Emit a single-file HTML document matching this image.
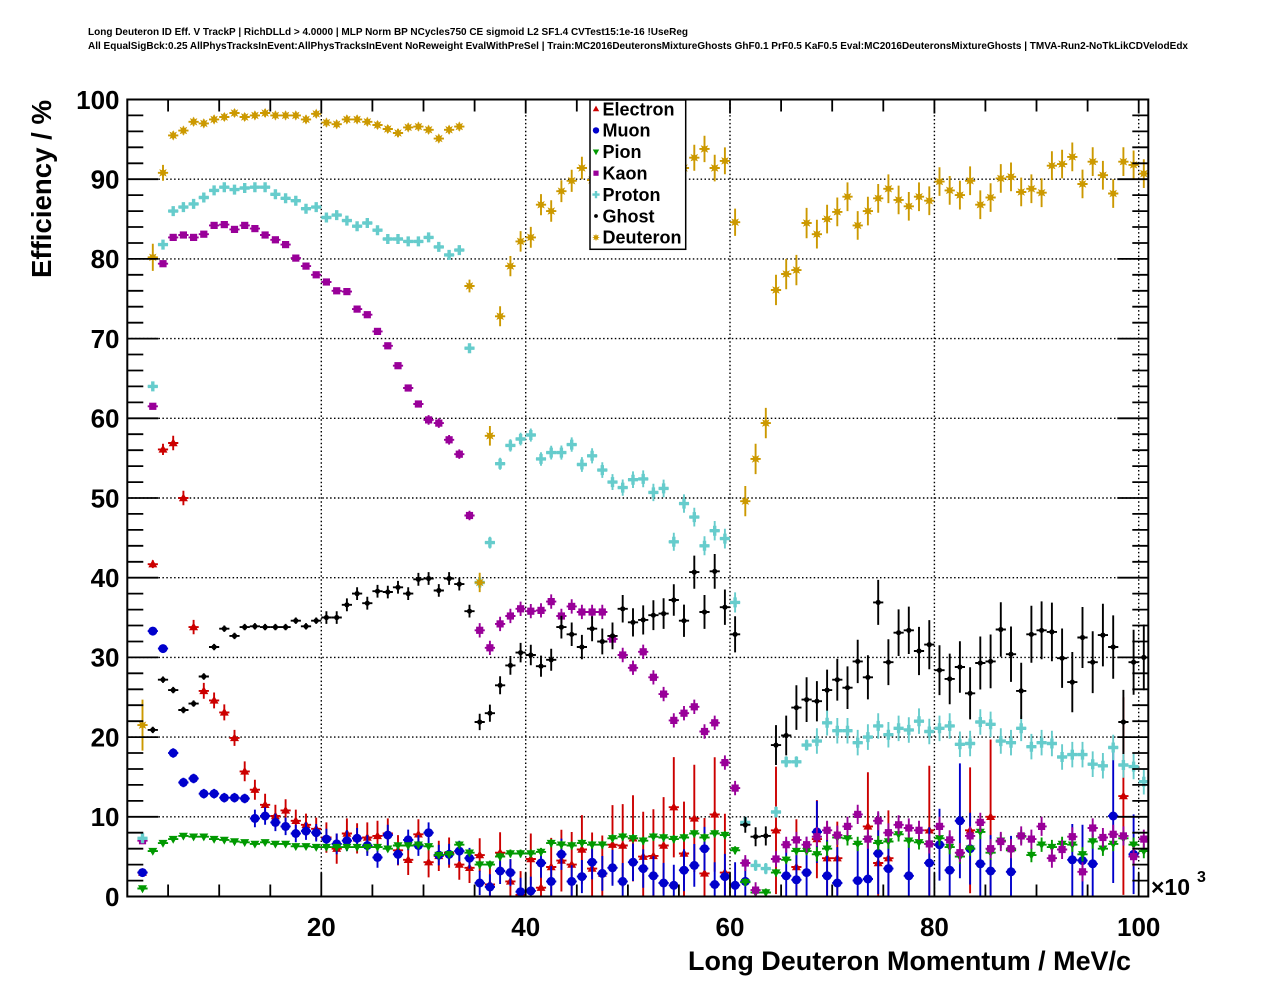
<!DOCTYPE html>
<html><head><meta charset="utf-8">
<style>
html,body{margin:0;padding:0;background:#fff;width:1276px;height:996px;overflow:hidden}
svg{position:absolute;left:0;top:0}
text{font-family:"Liberation Sans",Arial,sans-serif;font-weight:bold;fill:#000}
</style></head>
<body>
<svg id="s" width="1276" height="996" viewBox="0 0 1276 996" xmlns="http://www.w3.org/2000/svg">
<defs><clipPath id="cp"><rect x="127.3" y="99.5" width="1021" height="797"/></clipPath></defs>
<rect x="0" y="0" width="1276" height="996" fill="#fff"/>
<g id="grid"></g>
<g id="data" clip-path="url(#cp)"></g>
<rect x="127.3" y="99.5" width="1021" height="797" fill="none" stroke="#000" stroke-width="2"/>
<g id="ticks"></g>

<text x="88" y="35" font-size="10.5" textLength="600" lengthAdjust="spacingAndGlyphs">Long Deuteron ID Eff. V TrackP | RichDLLd &gt; 4.0000 | MLP Norm BP NCycles750 CE sigmoid L2 SF1.4 CVTest15:1e-16 !UseReg</text>
<text x="88" y="49" font-size="10.5" textLength="1100" lengthAdjust="spacingAndGlyphs">All EqualSigBck:0.25 AllPhysTracksInEvent:AllPhysTracksInEvent NoReweight EvalWithPreSel | Train:MC2016DeuteronsMixtureGhosts GhF0.1 PrF0.5 KaF0.5 Eval:MC2016DeuteronsMixtureGhosts | TMVA-Run2-NoTkLikCDVelodEdx</text>

<g font-size="26" text-anchor="end">
<text x="119.5" y="108.8">100</text>
<text x="119.5" y="188.5">90</text>
<text x="119.5" y="268.2">80</text>
<text x="119.5" y="347.9">70</text>
<text x="119.5" y="427.6">60</text>
<text x="119.5" y="507.3">50</text>
<text x="119.5" y="587.0">40</text>
<text x="119.5" y="666.7">30</text>
<text x="119.5" y="746.4">20</text>
<text x="119.5" y="826.1">10</text>
<text x="119.5" y="905.8">0</text>
</g>
<g font-size="26" text-anchor="middle">
<text x="321.3" y="936">20</text>
<text x="525.7" y="936">40</text>
<text x="730.0" y="936">60</text>
<text x="934.4" y="936">80</text>
<text x="1138.7" y="936">100</text>
</g>
<text x="1151" y="895" font-size="23">×10</text>
<text x="1197" y="882" font-size="16">3</text>

<text x="688" y="970" font-size="26.5" textLength="443" lengthAdjust="spacingAndGlyphs">Long Deuteron Momentum / MeV/c</text>
<text transform="translate(51,278) rotate(-90)" font-size="28" textLength="178" lengthAdjust="spacingAndGlyphs">Efficiency / %</text>

<g id="legend">
<rect x="590" y="100" width="95.7" height="149.3" fill="#fff" stroke="#000" stroke-width="1.5"/>
<g id="legmk"></g>
<g font-size="18">
<text x="602.5" y="115.3">Electron</text>
<text x="602.5" y="136.7">Muon</text>
<text x="602.5" y="158.1">Pion</text>
<text x="602.5" y="179.5">Kaon</text>
<text x="602.5" y="200.9">Proton</text>
<text x="602.5" y="222.3">Ghost</text>
<text x="602.5" y="243.7">Deuteron</text>
</g>
</g>
</svg>
<script>
(function(){
const X0=117.0,SX=10.217,Y0=896.5,SY=7.97;
const px=c=>X0+SX*c, py=v=>Y0-SY*v;
const S=n=>n.toFixed(1);
const mk={
 tu:(x,y,s)=>`<path d="M${S(x)},${S(y-4.7*s)}L${S(x+4.5*s)},${S(y+3.2*s)}L${S(x-4.5*s)},${S(y+3.2*s)}Z"/>`,
 td:(x,y,s)=>`<path d="M${S(x)},${S(y+4.7*s)}L${S(x+4.5*s)},${S(y-3.2*s)}L${S(x-4.5*s)},${S(y-3.2*s)}Z"/>`,
 ci:(x,y,s)=>`<circle cx="${S(x)}" cy="${S(y)}" r="${S(4.5*s)}"/>`,
 sq:(x,y,s)=>`<rect x="${S(x-3.6*s)}" y="${S(y-3.6*s)}" width="${S(7.2*s)}" height="${S(7.2*s)}"/>`,
 cr:(x,y,s)=>{const a=5.0*s,b=1.7*s;return `<path d="M${S(x-b)},${S(y-a)}h${S(2*b)}v${S(a-b)}h${S(a-b)}v${S(2*b)}h${S(b-a)}v${S(a-b)}h${S(-2*b)}v${S(b-a)}h${S(b-a)}v${S(-2*b)}h${S(a-b)}Z"/>`;},
 st:(x,y,s)=>{let d='';for(let k=0;k<16;k++){const r=(k%2?2.7:5.3)*s,t=k*Math.PI/8;d+=(k?'L':'M')+S(x+r*Math.sin(t))+','+S(y-r*Math.cos(t));}return `<path d="${d}Z"/>`;},
 gh:(x,y,s)=>`<circle cx="${S(x)}" cy="${S(y)}" r="${S(2.6*s)}"/>`
};
const N=null;
const E=[3.0,41.7,56.1,56.9,50.0,33.8,25.8,24.6,23.1,19.9,15.7,13.4,11.5,10.1,10.8,9.5,9.0,8.5,7.4,6.0,7.9,7.3,7.4,7.6,7.9,5.8,4.6,7.8,4.3,5.1,5.5,4.0,3.6,5.2,1.5,5.5,1.9,0.2,4.7,1.1,3.7,4.5,4.0,5.9,3.5,2.9,6.5,6.4,7.3,5.0,5.1,6.4,11.2,5.4,9.8,2.9,10.3,3.0,N,N,N,N,8.3,N,3.7,N,7.2,4.8,4.8,N,N,8.8,4.2,4.8,N,N,N,8.3,N,N,N,8.3,N,10.0,N,N,N,N,N,N,N,N,N,N,N,N,12.6,N,N];
const Mu=[3.0,33.3,31.1,18.0,14.3,14.8,12.9,12.9,12.4,12.4,12.3,9.8,10.1,9.3,8.8,7.9,8.2,8.0,7.2,6.6,7.0,7.3,6.4,4.9,7.7,5.3,7.1,6.4,8.0,5.2,5.3,5.7,4.8,1.7,1.2,3.2,3.0,0.6,0.7,4.2,1.9,5.3,1.9,2.5,4.3,2.9,3.6,1.9,4.3,3.5,2.6,1.7,1.4,3.3,3.9,6.0,1.5,2.5,1.4,1.9,N,N,N,2.6,2.1,3.0,8.1,2.6,1.7,N,2.0,2.2,5.4,3.5,N,2.6,N,4.2,6.5,3.3,9.5,6.0,4.1,3.2,N,3.1,N,N,N,N,N,4.6,4.5,4.1,N,10.1,N,5.3,N];
const Pi=[1.0,5.7,6.7,7.2,7.6,7.5,7.5,7.2,7.1,6.9,6.8,6.6,6.8,6.6,6.6,6.3,6.3,6.2,6.2,6.2,6.2,6.2,6.2,6.2,6.0,6.4,6.4,6.5,6.3,5.2,5.3,6.5,5.5,4.0,4.0,5.0,5.4,5.4,5.4,5.6,6.7,6.5,6.4,6.7,6.5,6.5,7.3,7.5,7.3,7.0,7.5,7.4,7.2,7.4,7.9,7.4,7.9,7.7,5.8,1.8,0.5,0.5,3.0,4.6,5.7,5.7,5.3,6.0,7.4,7.3,6.6,7.2,6.7,6.9,7.8,7.0,6.8,6.6,7.3,6.2,5.0,6.0,8.1,5.5,7.0,5.8,7.5,5.2,6.5,6.2,6.6,6.5,5.3,6.9,6.0,6.6,7.3,6.5,5.7];
const Ka=[7.0,61.5,79.4,82.7,83.0,82.7,83.1,84.2,84.3,83.7,84.2,83.8,83.0,82.4,81.8,80.1,79.1,78.0,77.1,76.0,75.9,73.7,73.0,70.9,69.1,66.6,63.8,61.8,59.8,59.4,57.3,55.5,47.8,33.4,31.2,34.2,35.2,36.1,35.8,35.9,37.0,35.2,36.4,35.7,35.7,35.7,32.3,30.3,28.7,30.7,27.5,25.4,22.1,23.0,23.8,20.7,21.8,16.8,13.6,4.2,0.8,N,4.7,6.5,7.1,6.5,7.5,8.3,7.7,8.8,10.3,7.2,9.5,8.0,9.0,8.6,8.3,6.6,8.8,7.1,5.5,7.6,9.3,6.0,6.9,6.0,7.6,7.2,8.8,4.8,5.9,7.5,3.1,8.6,7.4,7.8,7.6,5.0,7.2];
const Pr=[7.3,64.0,81.8,86.0,86.5,86.9,87.7,88.6,89.0,88.7,88.9,89.0,89.0,88.1,87.6,87.3,86.3,86.5,85.2,85.5,84.8,84.1,84.5,83.6,82.5,82.5,82.2,82.2,82.7,81.5,80.5,81.1,68.8,39.4,44.4,54.3,56.6,57.4,57.9,54.9,55.7,55.7,56.7,54.2,55.3,53.5,52.0,51.3,52.3,52.4,50.7,51.2,44.5,49.3,47.6,44.0,45.9,44.9,36.9,9.3,3.9,3.5,10.6,16.9,16.9,19.0,19.5,21.8,20.8,20.8,19.3,20.0,21.4,20.3,21.1,20.9,22.0,20.7,21.1,21.4,19.1,19.2,21.9,21.6,19.5,19.3,21.1,18.8,19.3,19.2,17.5,17.8,17.8,16.6,16.4,18.7,16.5,16.3,14.4];
const Gh=[N,20.9,27.2,25.9,23.4,24.2,27.6,31.3,33.6,32.7,33.8,33.9,33.8,33.8,33.8,34.6,33.9,34.6,35.0,35.0,36.6,38.0,36.8,38.3,38.2,38.8,38.0,39.8,39.9,38.4,39.9,39.2,35.8,21.9,23.0,26.5,29.0,30.6,30.3,28.9,29.7,33.8,32.9,31.3,33.6,32.0,32.7,36.1,34.4,34.7,35.3,35.5,37.2,34.6,40.7,35.7,40.8,36.3,32.9,9.0,7.5,7.6,19.0,20.2,23.7,24.7,24.5,25.9,27.2,26.2,29.5,27.5,36.9,29.4,33.1,33.4,30.8,31.6,28.4,27.3,28.8,25.5,29.3,29.5,33.5,30.4,25.8,32.9,33.4,33.2,29.9,26.9,32.5,29.4,32.8,31.3,21.9,29.4,30.0];
const De=[21.5,80.2,90.8,95.5,96.1,97.2,97.0,97.5,97.8,98.3,97.8,98.0,98.3,98.0,98.0,98.0,97.5,98.2,97.1,96.9,97.5,97.5,97.2,96.8,96.3,95.8,96.5,96.6,96.2,95.1,96.2,96.6,76.6,39.4,57.8,72.8,79.1,82.2,82.7,86.8,86.0,88.5,89.8,91.4,89.9,91.5,92.0,92.5,92.0,92.5,93.0,92.5,92.0,91.4,92.7,93.8,91.4,92.3,84.6,49.6,54.9,59.4,76.1,78.1,78.6,84.5,83.1,85.0,85.9,87.8,84.2,86.0,87.6,88.8,87.4,86.6,87.8,87.3,89.7,88.6,88.0,89.8,86.8,87.7,90.1,90.3,88.4,88.8,88.3,91.7,91.9,92.8,89.4,92.2,90.5,88.2,92.2,91.8,90.7];

const eE={64.5:8,66.5:6,68.5:4.9,69.5:4.6,70.5:4.6,73.5:6.8,74.5:6,75.5:6,79.5:8.1,83.5:7.9,85.5:9.7,98.5:12.4};
const errE=c=>c<4?0.5:c<5?0.7:c<8?0.9:c<12?1.0:c<14?1.25:c<20?1.4:c<35?1.9:c<61?2+(c-35)*0.22:(eE[c]||7);
const eM={68.5:3.9,82.5:7.2,97.5:8.4,74.5:5.1,99.5:5};
const errM=c=>c<5?0.5:c<13?0.6:c<20?1.1:c<35?1.3:c<62?1.5+(c-35)*0.055:(eM[c]||4.5);
const errP=c=>c<20?0.25:c<35?0.3:c<68?0.5:0.9;
const errK=c=>c<30?0.35:c<35?0.6:c<61?0.9:c<68?1.0:1.2;
const errPr=c=>c<3?0.5:c<34?0.45:c<35?0.6:c<61?0.7+(c-35)*0.022:c<68?0.7:1.6;
const eG={61.5:1.0,62.5:1.2,63.5:1.2,64.5:2.5,65.5:2.5,66.5:2.8,67.5:2.8};
const errG=c=>c<20?0.4:c<35?0.8:c<61?1.0+(c-35)*0.05:c<68?eG[c]:2.5+(c-68)*0.05;
const errD=c=>c<3?3.2:c<4?1.7:c<5?1.0:c<34?0.5:c<35?0.8:c<61?1.2+(c-35)*0.02:c<68?1.9:1.8;

let html='';
function series(vals,errf,color,m){
  let eb='',ms='';
  vals.forEach((v,i)=>{
    if(v===null)return;
    const c=2.5+i,x=px(c),y=py(v),e=errf(c);
    eb+=`M${S(x-5.1)},${S(y)}H${S(x+5.1)}M${S(x)},${S(py(v+e))}V${S(py(v-e))}`;
    ms+=mk[m](x,y,1);
  });
  html+=`<path d="${eb}" stroke="${color}" stroke-width="1.9" fill="none"/><g fill="${color}">${ms}</g>`;
}
const C={e:'#cc0000',m:'#0000cc',p:'#009900',k:'#990099',pr:'#66cccc',g:'#000000',d:'#cc9900'};
series(E,errE,C.e,'tu');
series(Mu,errM,C.m,'ci');
series(Pi,errP,C.p,'td');
series(Ka,errK,C.k,'sq');
series(Pr,errPr,C.pr,'cr');
series(Gh,errG,C.g,'gh');
series(De,errD,C.d,'st');
document.getElementById('data').innerHTML=html;

let gr='';
[20,40,60,80,100].forEach(c=>{gr+=`<line x1="${S(px(c))}" y1="99.5" x2="${S(px(c))}" y2="896.5"/>`;});
for(let v=10;v<100;v+=10){gr+=`<line x1="127.3" y1="${S(py(v))}" x2="1148.3" y2="${S(py(v))}"/>`;}
document.getElementById('grid').innerHTML=`<g stroke="#000" stroke-width="1.4" stroke-dasharray="1.5 2.4">${gr}</g>`;

let tk='';
for(let v=0;v<=100;v+=2){
  const y=S(py(v)),L=(v%10===0)?31:16;
  tk+=`<line x1="127.3" y1="${y}" x2="${S(127.3+L)}" y2="${y}"/><line x1="1148.3" y1="${y}" x2="${S(1148.3-L)}" y2="${y}"/>`;
}
for(let c=5;c<=100;c+=5){
  const x=S(px(c)),maj=(c%20===0);
  tk+=`<line x1="${x}" y1="896.5" x2="${x}" y2="${S(896.5-(maj?24:12))}"/><line x1="${x}" y1="99.5" x2="${x}" y2="${S(99.5+(maj?14:12))}"/>`;
}
document.getElementById('ticks').innerHTML=`<g stroke="#000" stroke-width="1.8">${tk}</g>`;

const lm=[['tu',C.e],['ci',C.m],['td',C.p],['sq',C.k],['cr',C.pr],['gh',C.g],['st',C.d]];
let lh='';
lm.forEach((a,i)=>{const y=109+i*21.4;lh+=`<g fill="${a[1]}">${mk[a[0]](596,y,0.72)}</g>`;});
document.getElementById('legmk').innerHTML=lh;
})();
</script>
</body></html>
